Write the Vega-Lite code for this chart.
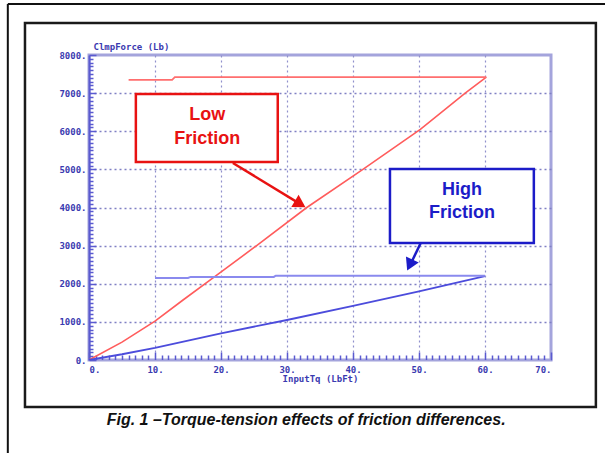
{
  "$schema": "https://vega.github.io/schema/vega-lite/v6.json",
  "width": 462,
  "height": 305,
  "autosize": {"type": "none"},
  "padding": {"left": 89, "top": 55, "right": 54, "bottom": 93},
  "background": "white",
  "config": {"view": {"stroke": "#a4a4dc", "strokeWidth": 3}},
  "datasets": {
    "lines": [
      {"s": "Low diagonal", "x": 0, "y": 0}, {"s": "Low diagonal", "x": 5, "y": 470}, {"s": "Low diagonal", "x": 10, "y": 1020},
      {"s": "Low diagonal", "x": 14.3, "y": 1580}, {"s": "Low diagonal", "x": 19, "y": 2180}, {"s": "Low diagonal", "x": 25.4, "y": 3000},
      {"s": "Low diagonal", "x": 33, "y": 4000}, {"s": "Low diagonal", "x": 41.5, "y": 5000}, {"s": "Low diagonal", "x": 50.2, "y": 6050},
      {"s": "Low diagonal", "x": 57, "y": 7000}, {"s": "Low diagonal", "x": 60.2, "y": 7420},
      {"s": "Low cap", "x": 6, "y": 7350}, {"s": "Low cap", "x": 12.6, "y": 7350}, {"s": "Low cap", "x": 13, "y": 7420}, {"s": "Low cap", "x": 60.2, "y": 7420},
      {"s": "High diagonal", "x": 0, "y": 0}, {"s": "High diagonal", "x": 5, "y": 150}, {"s": "High diagonal", "x": 10, "y": 320},
      {"s": "High diagonal", "x": 20, "y": 700}, {"s": "High diagonal", "x": 30, "y": 1050}, {"s": "High diagonal", "x": 40, "y": 1420},
      {"s": "High diagonal", "x": 50, "y": 1800}, {"s": "High diagonal", "x": 60, "y": 2200},
      {"s": "High cap", "x": 10, "y": 2150}, {"s": "High cap", "x": 15, "y": 2150}, {"s": "High cap", "x": 15.4, "y": 2180}, {"s": "High cap", "x": 28, "y": 2180}, {"s": "High cap", "x": 28.3, "y": 2210}, {"s": "High cap", "x": 60, "y": 2210}
    ],
    "boxes": [
      {"f": "Low", "x": 7.1, "x2": 28.6, "y": 6977, "y2": 5193},
      {"f": "High", "x": 45.6, "x2": 67.4, "y": 5010, "y2": 3069}
    ],
    "labels": [
      {"f": "Low", "x": 17.9, "y": 6426, "t": "Low"},
      {"f": "Low", "x": 17.9, "y": 5797, "t": "Friction"},
      {"f": "High", "x": 56.5, "y": 4459, "t": "High"},
      {"f": "High", "x": 56.5, "y": 3856, "t": "Friction"}
    ],
    "arrows": [
      {"f": "Low", "x": 21.8, "y": 5167, "x2": 32.4, "y2": 4050},
      {"f": "High", "x": 50.26, "y": 3069, "x2": 48.6, "y2": 2470}
    ],
    "heads": [
      {"f": "Low", "x": 32.0, "y": 4092},
      {"f": "High", "x": 48.6, "y": 2492}
    ],
    "frame": [
      {"x": -9.7, "x2": 76.8, "y": 8839, "y2": -1233}
    ],
    "outer": [
      {"x": -12.3, "y": 9338, "x2": 78.5, "y2": 9338},
      {"x": -12.3, "y": 9338, "x2": -12.3, "y2": -2450}
    ],
    "caption": [
      {"x": 32.9, "y": -1574, "t": "Fig. 1 –Torque-tension effects of friction differences."}
    ]
  },
  "encoding": {
    "x": {
      "field": "x", "type": "quantitative",
      "scale": {"domain": [0, 70], "nice": false, "zero": false},
      "axis": {
        "title": "InputTq (LbFt)",
        "values": [0,1,2,3,4,5,6,7,8,9,10,11,12,13,14,15,16,17,18,19,20,21,22,23,24,25,26,27,28,29,30,31,32,33,34,35,36,37,38,39,40,41,42,43,44,45,46,47,48,49,50,51,52,53,54,55,56,57,58,59,60,61,62,63,64,65,66,67,68,69,70],
        "labelExpr": "datum.value % 10 === 0 ? datum.value + '.' : ''",
        "labelOverlap": false,
        "labelFont": "DejaVu Sans Mono", "labelFontSize": 9, "labelFontWeight": "bold", "labelColor": "#3a3ab0",
        "labelPadding": 13,
        "tickSize": {"condition": {"test": "datum.value % 10 === 0", "value": -8}, "value": -5},
        "tickColor": "#5a5ad0", "tickWidth": 1.5,
        "domainColor": "#a4a4dc", "domainWidth": 1,
        "grid": true,
        "gridOpacity": {"condition": {"test": "datum.value % 10 === 0 && datum.value > 0 && datum.value < 70", "value": 1}, "value": 0},
        "gridDash": [2, 3], "gridColor": "#9090cc", "gridWidth": 1.2,
        "titleX": 231, "titleY": 18, "titleFont": "DejaVu Sans Mono", "titleFontSize": 9, "titleFontWeight": "bold", "titleColor": "#3a3ab0", "titleBaseline": "middle"
      }
    },
    "y": {
      "field": "y", "type": "quantitative",
      "scale": {"domain": [0, 8000], "nice": false},
      "axis": {
        "title": "ClmpForce (Lb)",
        "values": [0,100,200,300,400,500,600,700,800,900,1000,1100,1200,1300,1400,1500,1600,1700,1800,1900,2000,2100,2200,2300,2400,2500,2600,2700,2800,2900,3000,3100,3200,3300,3400,3500,3600,3700,3800,3900,4000,4100,4200,4300,4400,4500,4600,4700,4800,4900,5000,5100,5200,5300,5400,5500,5600,5700,5800,5900,6000,6100,6200,6300,6400,6500,6600,6700,6800,6900,7000,7100,7200,7300,7400,7500,7600,7700,7800,7900,8000],
        "labelExpr": "datum.value % 1000 === 0 ? datum.value + '.' : ''",
        "labelOverlap": false,
        "labelFont": "DejaVu Sans Mono", "labelFontSize": 9, "labelFontWeight": "bold", "labelColor": "#3a3ab0",
        "labelPadding": 10,
        "tickSize": {"condition": {"test": "datum.value % 1000 === 0", "value": -7}, "value": -4},
        "tickColor": "#5a5ad0", "tickWidth": 1.5,
        "domainColor": "#5a5ad0", "domainWidth": 2,
        "grid": true,
        "gridOpacity": {"condition": {"test": "datum.value % 1000 === 0 && datum.value > 0 && datum.value < 8000", "value": 1}, "value": 0},
        "gridDash": [2, 3], "gridColor": "#8080c4", "gridWidth": 1.3,
        "titleAngle": 0, "titleAlign": "left", "titleX": 4, "titleY": -9, "titleBaseline": "middle",
        "titleFont": "DejaVu Sans Mono", "titleFontSize": 9, "titleFontWeight": "bold", "titleColor": "#3a3ab0"
      }
    }
  },
  "layer": [
    {
      "data": {"name": "lines"},
      "mark": {"type": "line", "clip": true},
      "encoding": {
        "detail": {"field": "s", "type": "nominal"},
        "color": {"field": "s", "type": "nominal", "legend": null,
          "scale": {"domain": ["Low diagonal", "Low cap", "High diagonal", "High cap"], "range": ["#ff5c5c", "#ff6f6f", "#4c4cdc", "#8a8aee"]}},
        "strokeWidth": {"field": "s", "type": "nominal", "legend": null,
          "scale": {"domain": ["Low diagonal", "Low cap", "High diagonal", "High cap"], "range": [1.6, 2, 1.5, 2.6]}}
      }
    },
    {
      "data": {"name": "outer"},
      "mark": {"type": "rule", "color": "#111111", "strokeWidth": 2, "clip": false},
      "encoding": {
        "x2": {"field": "x2"},
        "y2": {"field": "y2"}
      }
    },
    {
      "data": {"name": "frame"},
      "mark": {"type": "rect", "fill": null, "fillOpacity": 0, "stroke": "#1a1a1a", "strokeWidth": 2.5, "clip": false},
      "encoding": {
        "x2": {"field": "x2"},
        "y2": {"field": "y2"}
      }
    },
    {
      "data": {"name": "boxes"},
      "mark": {"type": "rect", "fill": "white", "strokeWidth": 2.5},
      "encoding": {
        "x2": {"field": "x2"},
        "y2": {"field": "y2"},
        "stroke": {"field": "f", "type": "nominal", "legend": null, "scale": {"domain": ["Low", "High"], "range": ["#e81212", "#1c1cc8"]}}
      }
    },
    {
      "data": {"name": "labels"},
      "mark": {"type": "text", "font": "Liberation Sans", "fontSize": 18, "fontWeight": "bold", "align": "center", "baseline": "middle"},
      "encoding": {
        "text": {"field": "t"},
        "fill": {"field": "f", "type": "nominal", "legend": null, "scale": {"domain": ["Low", "High"], "range": ["#e81212", "#1c1cc8"]}}
      }
    },
    {
      "data": {"name": "arrows"},
      "mark": {"type": "rule", "strokeWidth": 2.5},
      "encoding": {
        "x2": {"field": "x2"},
        "y2": {"field": "y2"},
        "stroke": {"field": "f", "type": "nominal", "legend": null, "scale": {"domain": ["Low", "High"], "range": ["#e81212", "#1c1cc8"]}}
      }
    },
    {
      "data": {"name": "heads"},
      "transform": [{"filter": "datum.f === 'Low'"}],
      "mark": {"type": "point", "shape": "triangle-right", "filled": true, "size": 200, "angle": 31, "opacity": 1},
      "encoding": {
        "fill": {"field": "f", "type": "nominal", "legend": null, "scale": {"domain": ["Low", "High"], "range": ["#e81212", "#1c1cc8"]}}
      }
    },
    {
      "data": {"name": "heads"},
      "transform": [{"filter": "datum.f === 'High'"}],
      "mark": {"type": "point", "shape": "triangle-right", "filled": true, "size": 200, "angle": 115, "opacity": 1},
      "encoding": {
        "fill": {"field": "f", "type": "nominal", "legend": null, "scale": {"domain": ["Low", "High"], "range": ["#e81212", "#1c1cc8"]}}
      }
    },
    {
      "data": {"name": "caption"},
      "mark": {"type": "text", "font": "Liberation Sans", "fontSize": 16, "fontWeight": "bold", "fontStyle": "italic", "align": "center", "baseline": "middle", "color": "#111111", "clip": false},
      "encoding": {
        "text": {"field": "t"}
      }
    }
  ]
}
